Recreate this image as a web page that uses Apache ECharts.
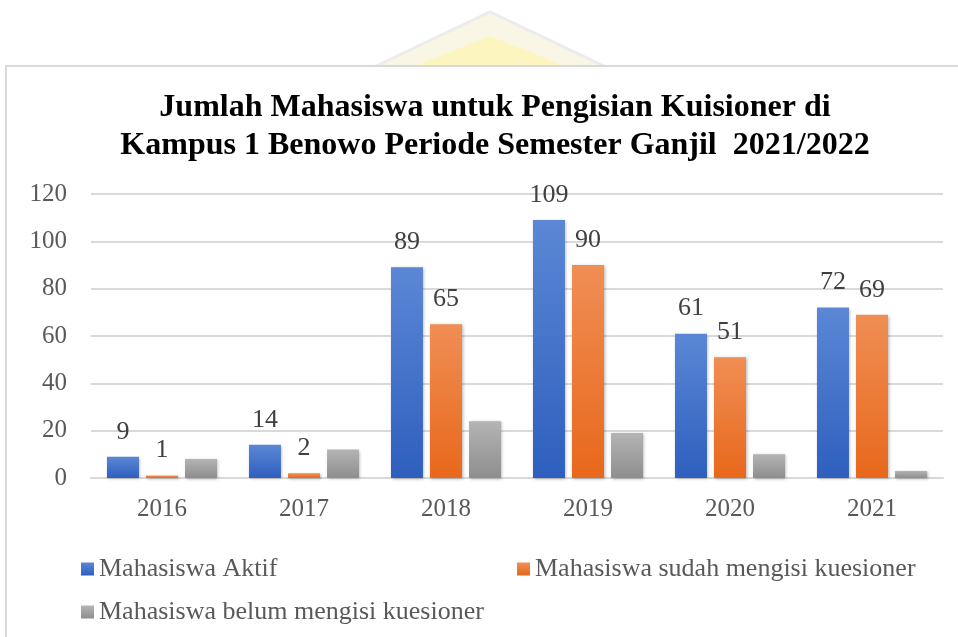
<!DOCTYPE html>
<html>
<head>
<meta charset="utf-8">
<script src="https://cdn.jsdelivr.net/npm/echarts@6/dist/echarts.min.js"></script>
<style>
  html, body { margin: 0; padding: 0; background: #fff; }
  #chart_view { width: 958px; height: 637px; }
</style>
</head>
<body>
<div id="chart_view"></div>
<script>
var years = ['2016', '2017', '2018', '2019', '2020', '2021'];
var aktif = [9, 14, 89, 109, 61, 72];
var sudah = [1, 2, 65, 90, 51, 69];
var belum = [8, 12, 24, 19, 10, 3];
var seriesNames = ['Mahasiswa Aktif', 'Mahasiswa sudah mengisi kuesioner', 'Mahasiswa belum mengisi kuesioner'];

var serif = '"Liberation Serif", "Times New Roman", serif';

function grad(top, bottom) {
    return new echarts.graphic.LinearGradient(0, 0, 0, 1, [
        { offset: 0, color: top },
        { offset: 1, color: bottom }
    ]);
}

var labelStyle = {
    show: true,
    position: 'top',
    distance: 12,
    fontFamily: serif,
    fontSize: 26,
    color: '#404040'
};

var legendText = { fontFamily: serif, fontSize: 26, color: '#595959' };

var myChart = echarts.init(document.getElementById('chart_view'));

var option = {
    animation: false,
    backgroundColor: '#fff',
    textStyle: { fontFamily: serif },
    graphic: [
        // faint logo watermark above the frame
        {
            type: 'polygon',
            shape: { points: [[372, 68], [490, 12], [608, 68]] },
            style: { fill: '#f9f6e6', stroke: '#ececec', lineWidth: 3 },
            z: -10
        },
        {
            type: 'polygon',
            shape: { points: [[410, 68], [490, 36], [570, 68]] },
            style: { fill: '#fdf5bf' },
            z: -10
        },
        // chart frame
        {
            type: 'rect',
            shape: { x: 6, y: 66, width: 960, height: 580 },
            style: { fill: '#fff', stroke: '#d9d9d9', lineWidth: 2 },
            z: -10
        }
    ],
    title: {
        text: 'Jumlah Mahasiswa untuk Pengisian Kuisioner di\nKampus 1 Benowo Periode Semester Ganjil  2021/2022',
        left: 490,
        top: 84,
        textAlign: 'center',
        textStyle: {
            fontFamily: serif,
            fontWeight: 'bold',
            fontSize: 32,
            lineHeight: 38,
            color: '#000'
        }
    },
    legend: [
        {
            data: [seriesNames[0]],
            left: 76,
            top: 551,
            itemWidth: 13,
            itemHeight: 13,
            itemGap: 4,
            icon: 'rect',
            textStyle: legendText
        },
        {
            data: [seriesNames[1]],
            left: 512,
            top: 551,
            itemWidth: 13,
            itemHeight: 13,
            icon: 'rect',
            textStyle: legendText
        },
        {
            data: [seriesNames[2]],
            left: 76,
            top: 594,
            itemWidth: 13,
            itemHeight: 13,
            icon: 'rect',
            textStyle: legendText
        }
    ],
    grid: {
        left: 91,
        right: 15,
        top: 194,
        bottom: 159
    },
    xAxis: {
        type: 'category',
        data: years,
        axisTick: { show: false },
        axisLine: { lineStyle: { color: '#d9d9d9', width: 2 } },
        axisLabel: { fontFamily: serif, fontSize: 25, color: '#595959', margin: 19 }
    },
    yAxis: {
        type: 'value',
        min: 0,
        max: 120,
        interval: 20,
        axisLine: { show: false },
        axisTick: { show: false },
        splitLine: { lineStyle: { color: '#d9d9d9', width: 2 } },
        axisLabel: { fontFamily: serif, fontSize: 25, color: '#595959', margin: 24 }
    },
    series: [
        {
            name: seriesNames[0],
            type: 'bar',
            data: aktif,
            barWidth: 32,
            barGap: '22%',
            itemStyle: { color: grad('#5b87d5', '#2e5fbe'), shadowBlur: 3, shadowColor: 'rgba(0,0,0,0.3)', shadowOffsetX: 1, shadowOffsetY: 1 },
            label: labelStyle
        },
        {
            name: seriesNames[1],
            type: 'bar',
            data: sudah,
            barWidth: 32,
            barGap: '22%',
            itemStyle: { color: grad('#f08e55', '#e8681b'), shadowBlur: 3, shadowColor: 'rgba(0,0,0,0.3)', shadowOffsetX: 1, shadowOffsetY: 1 },
            label: labelStyle
        },
        {
            name: seriesNames[2],
            type: 'bar',
            data: belum,
            barWidth: 32,
            barGap: '22%',
            itemStyle: { color: grad('#b4b4b4', '#8e8e8e'), shadowBlur: 3, shadowColor: 'rgba(0,0,0,0.3)', shadowOffsetX: 1, shadowOffsetY: 1 }
        }
    ]
};

myChart.setOption(option);
</script>
</body>
</html>
